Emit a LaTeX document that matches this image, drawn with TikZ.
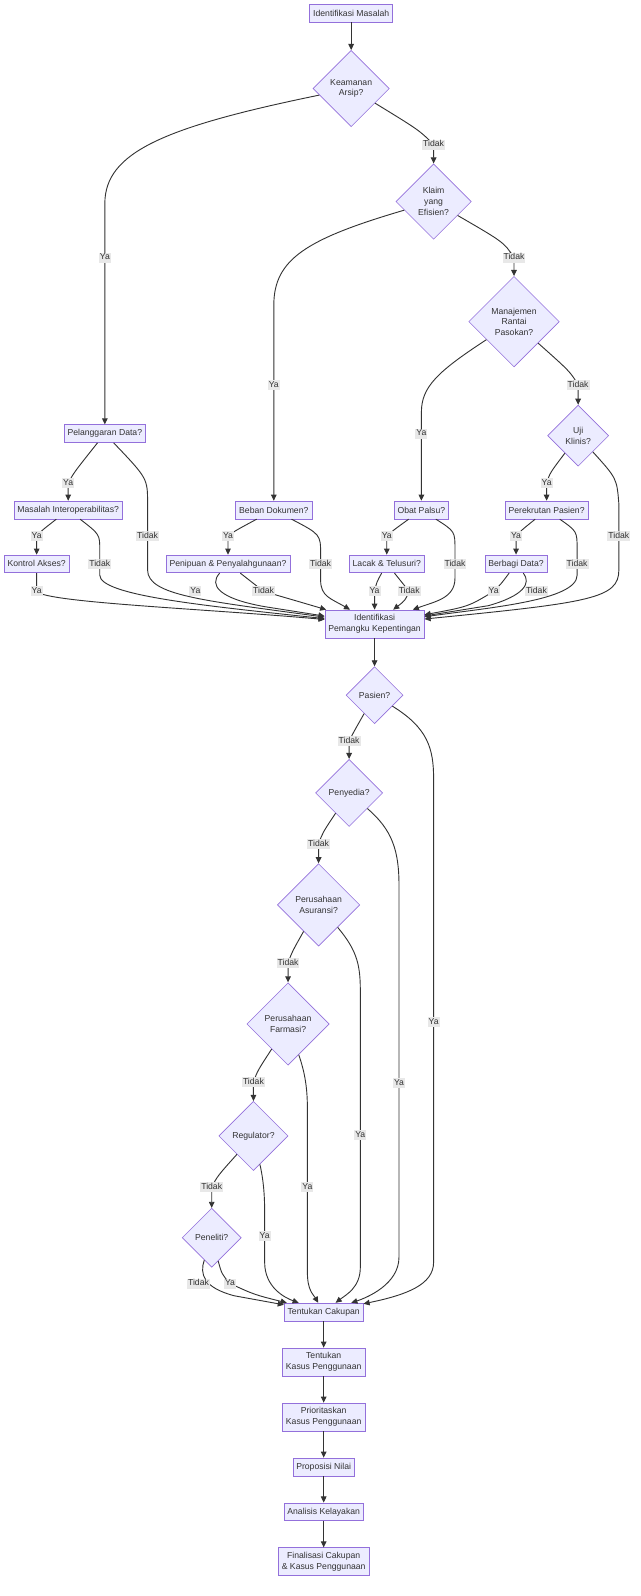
\documentclass[tikz,border=0pt]{standalone}
\usepackage{fontspec}
\setmainfont{Liberation Sans}
\usetikzlibrary{positioning, arrows.meta, shapes.geometric}

\definecolor{nodefill}{HTML}{ECECFF}
\definecolor{nodeline}{HTML}{9370DB}
\definecolor{edgeline}{HTML}{333333}
\definecolor{labelbg}{HTML}{E8E8E8}

\begin{document}
\begin{tikzpicture}[
    x=1pt, y=1pt,
    node distance=26pt,
    font=\fontsize{8.5}{10.5}\selectfont,
    text=edgeline,
    process/.style={draw=nodeline, fill=nodefill, rectangle, line width=0.6pt, minimum height=17.5pt, inner xsep=3.4pt, inner ysep=4.5pt, align=center},
    decision/.style={draw=nodeline, fill=nodefill, diamond, aspect=1, line width=0.6pt, inner sep=0pt, align=center},
    arrow/.style={-{Triangle[length=6pt, width=5.5pt]}, draw=edgeline, line width=0.9pt},
    edgelabel/.style={fill=labelbg, inner xsep=1pt, inner ysep=1pt, text height=6.2pt, text depth=1.6pt}
]
\useasboundingbox (0,0) rectangle (629,-1568);

% Nodes
\node (masalah) [process] at (345,-13) {Identifikasi Masalah};
\node (keamanan) [decision, minimum size=75pt] at (345,-87) {Keamanan\\Arsip?};
\node (klaim) [decision, minimum size=74pt] at (426,-198) {Klaim\\yang\\Efisien?};
\node (rantai) [decision, minimum size=89pt] at (505,-316) {Manajemen\\Rantai\\Pasokan?};
\node (uji) [decision, minimum size=60pt] at (568,-428) {Uji\\Klinis?};

\node (pelanggaran) [process] at (103,-426) {Pelanggaran Data?};
\node (interop) [process] at (67,-501) {Masalah Interoperabilitas?};
\node (akses) [process] at (36,-554) {Kontrol Akses?};
\node (beban) [process] at (269,-501) {Beban Dokumen?};
\node (penipuan) [process] at (224,-554) {Penipuan \& Penyalahgunaan?};
\node (palsu) [process] at (414,-501) {Obat Palsu?};
\node (lacak) [process] at (380,-554) {Lacak \& Telusuri?};
\node (rekrut) [process] at (537,-501) {Perekrutan Pasien?};
\node (berbagi) [process] at (507,-554) {Berbagi Data?};

\node (pemangku) [process] at (368,-613) {Identifikasi\\Pemangku Kepentingan};
\node (pasien) [decision, minimum size=56pt] at (368,-683) {Pasien?};
\node (penyedia) [decision, minimum size=66pt] at (343,-779) {Penyedia?};
\node (asuransi) [decision, minimum size=81pt] at (313,-889) {Perusahaan\\Asuransi?};
\node (farmasi) [decision, minimum size=81pt] at (283,-1006) {Perusahaan\\Farmasi?};
\node (regulator) [decision, minimum size=68pt] at (249,-1116) {Regulator?};
\node (peneliti) [decision, minimum size=58pt] at (208,-1216) {Peneliti?};

\node (cakupan) [process] at (318,-1289) {Tentukan Cakupan};
\node (kasus) [process, below=of cakupan] {Tentukan\\Kasus Penggunaan};
\node (prioritas) [process, below=of kasus] {Prioritaskan\\Kasus Penggunaan};
\node (nilai) [process, below=of prioritas] {Proposisi Nilai};
\node (kelayakan) [process, below=of nilai] {Analisis Kelayakan};
\node (final) [process, below=of kelayakan] {Finalisasi Cakupan\\\& Kasus Penggunaan};

% Connections
\draw [arrow] (masalah) -- (keamanan);
\draw [arrow] (keamanan) .. controls (160,-125) and (103,-150) .. (103,-200) -- (103,-253) node[edgelabel] {Ya} -- (pelanggaran);
\draw [arrow] (keamanan) .. controls (412,-128) .. (426,-142) node[edgelabel] {Tidak} -- (klaim);
\draw [arrow] (klaim) .. controls (300,-235) and (269,-255) .. (269,-300) -- (269,-378) node[edgelabel] {Ya} -- (beban);
\draw [arrow] (klaim) .. controls (495,-238) .. (505,-253) node[edgelabel] {Tidak} -- (rantai);
\draw [arrow] (rantai) .. controls (430,-365) and (414,-380) .. (414,-405) -- (414,-426) node[edgelabel] {Ya} -- (palsu);
\draw [arrow] (rantai) .. controls (560,-365) .. (568,-378) node[edgelabel] {Tidak} -- (uji);
\draw [arrow] (uji) .. controls (540,-465) .. (537,-475) node[edgelabel] {Ya} -- (rekrut);
\draw [arrow] (uji) .. controls (606,-470) .. (608,-495) -- (608,-527) node[edgelabel] {Tidak} -- (608,-560) .. controls (608,-588) and (580,-592) .. (pemangku);

% Left branch
\draw [arrow] (pelanggaran) .. controls (72,-465) .. (67,-475) node[edgelabel] {Ya} -- (interop);
\draw [arrow] (pelanggaran) .. controls (145,-470) .. (145,-495) -- (145,-527) node[edgelabel] {Tidak} -- (145,-560) .. controls (145,-585) and (200,-590) .. (pemangku);
\draw [arrow] (interop) .. controls (40,-522) .. (36,-527) node[edgelabel] {Ya} -- (akses);
\draw [arrow] (interop) .. controls (98,-525) .. (98,-540) -- (98,-554) node[edgelabel] {Tidak} -- (98,-565) .. controls (98,-585) and (200,-595) .. (pemangku);
\draw [arrow] (akses) -- (36,-581) node[edgelabel] {Ya} .. controls (45,-592) and (200,-598) .. (pemangku);

% Middle branches
\draw [arrow] (beban) .. controls (230,-522) .. (224,-527) node[edgelabel] {Ya} -- (penipuan);
\draw [arrow] (beban) .. controls (315,-525) .. (315,-545) -- (315,-554) node[edgelabel] {Tidak} -- (315,-570) .. controls (315,-586) and (325,-588) .. (pemangku);
\draw [arrow] (penipuan) .. controls (205,-575) and (215,-588) .. (260,-596) -- (pemangku) node[edgelabel] at (192,-581) {Ya};
\draw [arrow] (penipuan) .. controls (248,-572) .. (259,-581) node[edgelabel] {Tidak} .. controls (290,-590) .. (pemangku);
\draw [arrow] (palsu) .. controls (385,-522) .. (380,-527) node[edgelabel] {Ya} -- (lacak);
\draw [arrow] (palsu) .. controls (447,-522) .. (447,-540) -- (447,-554) node[edgelabel] {Tidak} -- (447,-568) .. controls (447,-588) and (427,-591) .. (pemangku);
\draw [arrow] (lacak) .. controls (370,-572) .. (368,-581) node[edgelabel] {Ya} -- (pemangku);
\draw [arrow] (lacak) .. controls (395,-572) .. (402,-581) node[edgelabel] {Tidak} .. controls (398,-590) .. (pemangku);

% Right branch
\draw [arrow] (rekrut) .. controls (511,-522) .. (507,-527) node[edgelabel] {Ya} -- (berbagi);
\draw [arrow] (rekrut) .. controls (567,-522) .. (567,-540) -- (567,-554) node[edgelabel] {Tidak} -- (567,-565) .. controls (567,-590) and (480,-597) .. (pemangku);
\draw [arrow] (berbagi) .. controls (492,-574) .. (485,-581) node[edgelabel] {Ya} .. controls (460,-596) .. (pemangku);
\draw [arrow] (berbagi) .. controls (522,-573) and (515,-585) .. (480,-595) -- (pemangku) node[edgelabel] at (527,-581) {Tidak};

% Stakeholders
\draw [arrow] (pemangku) -- (pasien);
\draw [arrow] (pasien) .. controls (347,-720) .. (343,-728) node[edgelabel] {Tidak} -- (penyedia);
\draw [arrow] (pasien) .. controls (420,-715) and (426,-735) .. (426,-765) -- (426,-1004) node[edgelabel] {Ya} -- (426,-1240) .. controls (426,-1262) and (400,-1272) .. (cakupan);
\draw [arrow] (penyedia) .. controls (317,-818) .. (313,-829) node[edgelabel] {Tidak} -- (asuransi);
\draw [arrow] (penyedia) .. controls (385,-815) and (392,-835) .. (392,-870) -- (392,-1064) node[edgelabel] {Ya} -- (392,-1235) .. controls (392,-1262) and (360,-1275) .. (cakupan);
\draw [arrow] (asuransi) .. controls (287,-935) .. (283,-946) node[edgelabel] {Tidak} -- (farmasi);
\draw [arrow] (asuransi) .. controls (352,-935) and (354,-950) .. (354,-975) -- (354,-1115) node[edgelabel] {Ya} -- (354,-1245) .. controls (354,-1265) and (340,-1272) .. (cakupan);
\draw [arrow] (farmasi) .. controls (253,-1052) .. (249,-1063) node[edgelabel] {Tidak} -- (regulator);
\draw [arrow] (farmasi) .. controls (300,-1055) and (302,-1070) .. (302,-1090) -- (302,-1166) node[edgelabel] {Ya} -- (302,-1250) .. controls (302,-1268) and (308,-1272) .. (cakupan);
\draw [arrow] (regulator) .. controls (214,-1155) .. (208,-1166) node[edgelabel] {Tidak} -- (peneliti);
\draw [arrow] (regulator) .. controls (259,-1160) and (260,-1175) .. (260,-1190) -- (260,-1214) node[edgelabel] {Ya} -- (260,-1240) .. controls (260,-1265) and (280,-1275) .. (cakupan);
\draw [arrow] (peneliti) .. controls (196,-1252) and (200,-1265) .. (230,-1273) -- (cakupan) node[edgelabel] at (195,-1261) {Tidak};
\draw [arrow] (peneliti) .. controls (218,-1252) .. (226,-1261) node[edgelabel] {Ya} .. controls (250,-1272) .. (cakupan);

% Scope and use cases
\draw [arrow] (cakupan) -- (kasus);
\draw [arrow] (kasus) -- (prioritas);
\draw [arrow] (prioritas) -- (nilai);
\draw [arrow] (nilai) -- (kelayakan);
\draw [arrow] (kelayakan) -- (final);

\end{tikzpicture}
\end{document}
